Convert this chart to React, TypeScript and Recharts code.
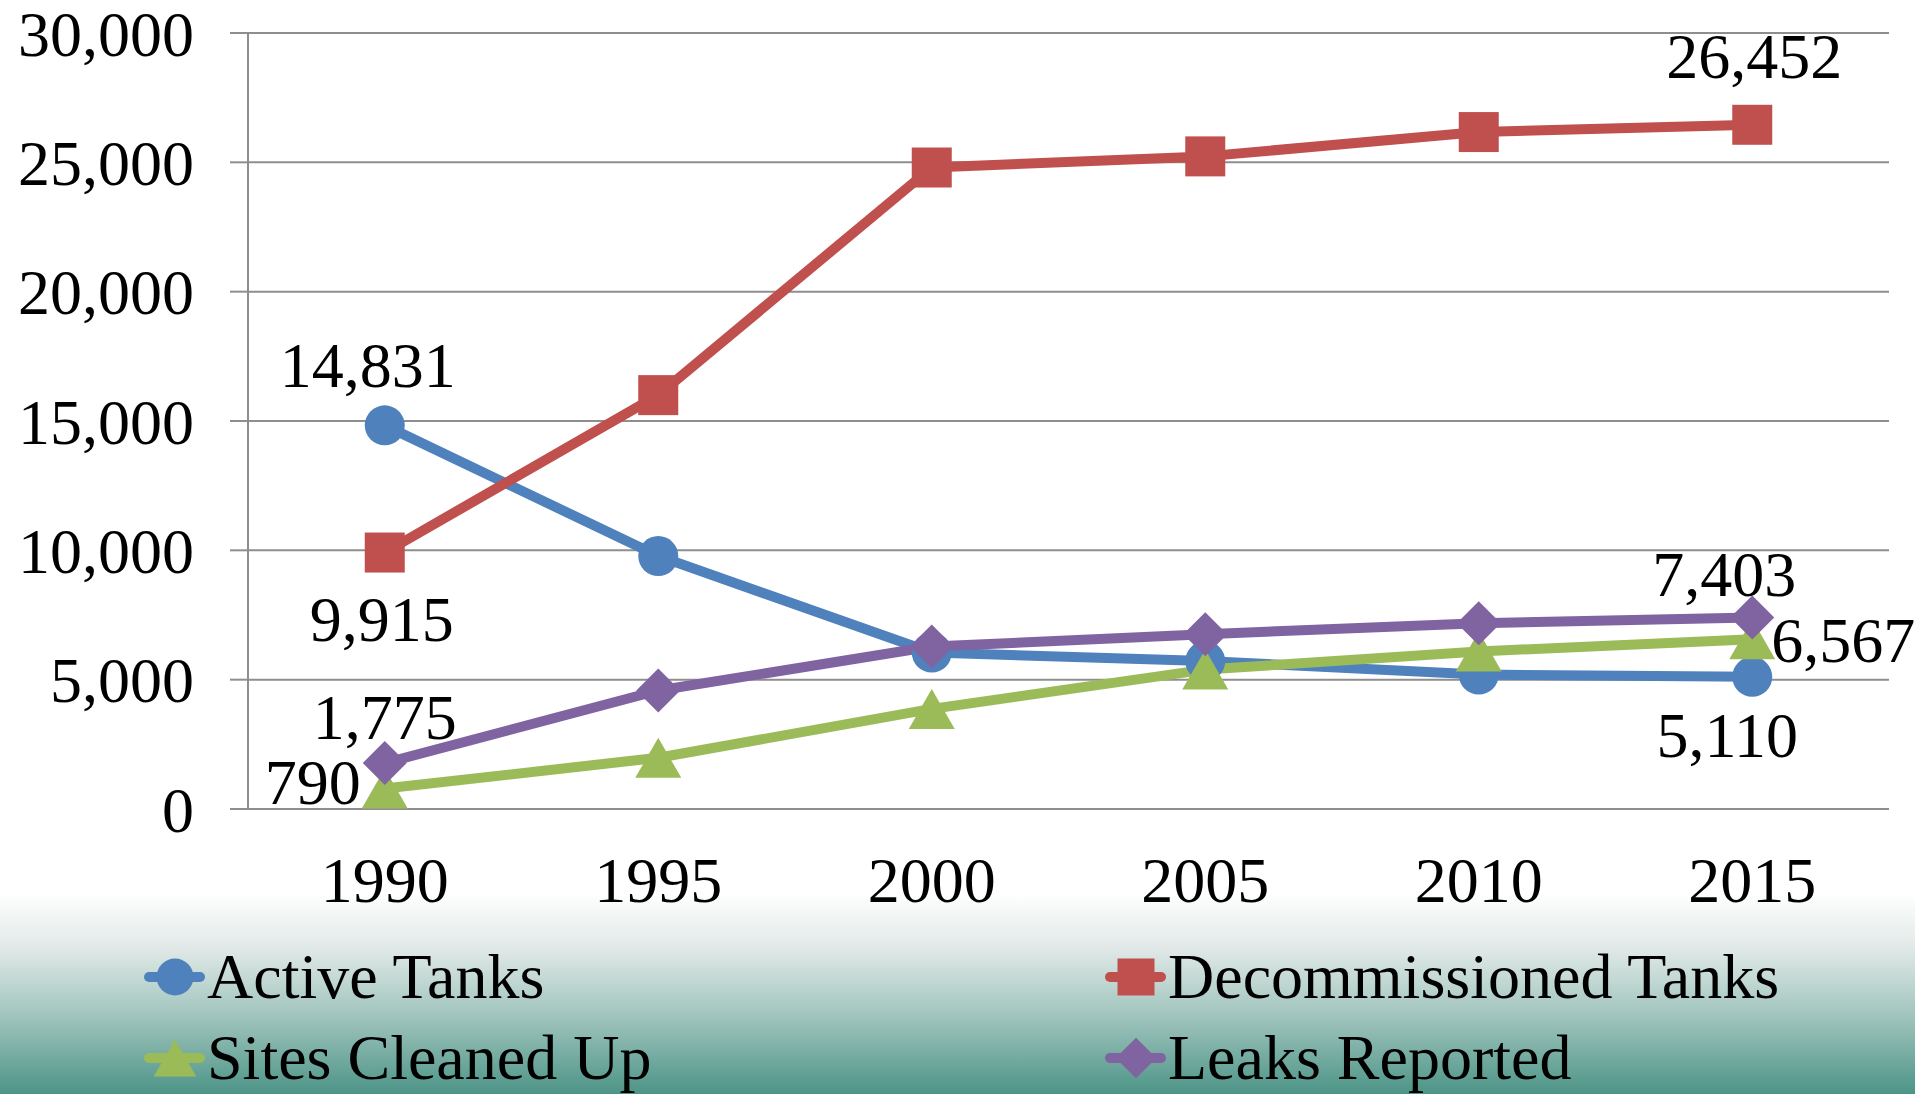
import React from "react";
import { LineChart, Line, XAxis, YAxis, CartesianGrid, LabelList } from "recharts";

const years = [1990, 1995, 2000, 2005, 2010, 2015];
const activeTanks = [14831, 9780, 6050, 5720, 5200, 5110];
const decommissionedTanks = [9915, 16000, 24800, 25230, 26170, 26452];
const sitesCleanedUp = [790, 1980, 3870, 5390, 6090, 6567];
const leaksReported = [1775, 4580, 6280, 6760, 7180, 7403];
const yTicks = [0, 5000, 10000, 15000, 20000, 25000, 30000];
const bandEdges = [1987.5, 1992.5, 1997.5, 2002.5, 2007.5, 2012.5, 2017.5];

const FONT = '"Liberation Serif", "Times New Roman", serif';
const FS = 64;
const GRID = "#8e8e8e";

type Shape = "circle" | "square" | "triangle" | "diamond";

const series = [
  { key: "active", name: "Active Tanks", color: "#4F81BD", shape: "circle" as Shape, values: activeTanks },
  { key: "decom", name: "Decommissioned Tanks", color: "#C0504D", shape: "square" as Shape, values: decommissionedTanks },
  { key: "sites", name: "Sites Cleaned Up", color: "#9BBB59", shape: "triangle" as Shape, values: sitesCleanedUp },
  { key: "leaks", name: "Leaks Reported", color: "#8064A2", shape: "diamond" as Shape, values: leaksReported },
];

// where each end label sits relative to its point (text centre), only first/last points get one
const labelSpots: Record<string, { [i: number]: { dx: number; dy: number; anchor: string } }> = {
  active: { 0: { dx: -17, dy: -59, anchor: "middle" }, 5: { dx: -25, dy: 59, anchor: "middle" } },
  decom: { 0: { dx: -3, dy: 67, anchor: "middle" }, 5: { dx: 2, dy: -68, anchor: "middle" } },
  sites: { 0: { dx: -24, dy: -6, anchor: "end" }, 5: { dx: 19, dy: 2, anchor: "start" } },
  leaks: { 0: { dx: 0, dy: -45, anchor: "middle" }, 5: { dx: -28, dy: -43, anchor: "middle" } },
};

const data = years.map((year, i) => {
  const row: any = { year };
  series.forEach((s) => (row[s.key] = s.values[i]));
  return row;
});

const fmt = (v: number) => v.toLocaleString("en-US");

function Marker({ shape, cx, cy, color, size = 20 }: { shape: Shape; cx: number; cy: number; color: string; size?: number }) {
  if (shape === "circle") return <circle cx={cx} cy={cy} r={size} fill={color} />;
  if (shape === "square")
    return <rect x={cx - size} y={cy - size} width={size * 2} height={size * 2} fill={color} />;
  if (shape === "triangle")
    return (
      <polygon
        points={`${cx},${cy - size} ${cx - size * 1.15},${cy + size} ${cx + size * 1.15},${cy + size}`}
        fill={color}
      />
    );
  const d = size * 1.1;
  return <polygon points={`${cx},${cy - d} ${cx + d},${cy} ${cx},${cy + d} ${cx - d},${cy}`} fill={color} />;
}

export default function App() {
  return (
    <div
      style={{
        position: "absolute",
        left: 0,
        top: 0,
        width: 1915,
        height: 1094,
        background: "linear-gradient(to bottom, #ffffff 0px, #ffffff 893px, #dfe8e6 950px, #9cc2ba 1020px, #4d9487 1094px)",
        fontFamily: FONT,
      }}
    >
      <LineChart width={1915} height={1094} data={data} margin={{ top: 33, right: 26, left: 0, bottom: 205 }}>
        <CartesianGrid vertical={false} stroke={GRID} strokeWidth={2} />
        <XAxis
          dataKey="year"
          type="number"
          domain={[1987.5, 2017.5]}
          ticks={bandEdges}
          interval={0}
          tick={false}
          height={0}
          tickSize={18}
          stroke={GRID}
          strokeWidth={2}
        />
        <XAxis
          xAxisId="lbl"
          dataKey="year"
          type="number"
          domain={[1987.5, 2017.5]}
          ticks={years}
          interval={0}
          axisLine={false}
          tickLine={false}
          tickSize={0}
          tickMargin={48}
          height={80}
          tick={{ fontSize: FS, fill: "#000", fontFamily: FONT }}
        />
        <YAxis
          width={248}
          domain={[0, 30000]}
          ticks={yTicks}
          interval={0}
          tickSize={18}
          tickMargin={36}
          tickFormatter={fmt}
          stroke={GRID}
          strokeWidth={2}
          tick={{ fontSize: FS, fill: "#000", fontFamily: FONT }}
        />
        {series.map((s) => (
          <Line
            key={s.key}
            dataKey={s.key}
            name={s.name}
            stroke={s.color}
            strokeWidth={10}
            strokeLinejoin="round"
            isAnimationActive={false}
            dot={(p: any) => (
              <Marker key={`${s.key}-${p.index}`} shape={s.shape} cx={p.cx} cy={p.cy} color={s.color} />
            )}
            activeDot={false}
          >
            <LabelList
              dataKey={s.key}
              content={(p: any) => {
                const spot = labelSpots[s.key][p.index];
                if (!spot) return null;
                return (
                  <text
                    x={p.x + spot.dx}
                    y={p.y + spot.dy + 21}
                    textAnchor={spot.anchor as any}
                    fontSize={FS}
                    fontFamily={FONT}
                    fill="#000"
                  >
                    {fmt(p.value)}
                  </text>
                );
              }}
            />
          </Line>
        ))}
      </LineChart>
      <svg width={1915} height={1094} style={{ position: "absolute", left: 0, top: 0, pointerEvents: "none" }}>
        {series.map((s, i) => {
          const x0 = i % 2 === 0 ? 144 : 1105;
          const cy = i < 2 ? 977 : 1058;
          return (
            <g key={s.key}>
              <line x1={x0 + 5} y1={cy} x2={x0 + 56} y2={cy} stroke={s.color} strokeWidth={10} strokeLinecap="round" />
              <Marker shape={s.shape} cx={x0 + 31} cy={cy} color={s.color} size={18.5} />
              <text x={x0 + 63} y={cy + 21} fontSize={FS} fontFamily={FONT} fill="#000">
                {s.name}
              </text>
            </g>
          );
        })}
      </svg>
    </div>
  );
}
